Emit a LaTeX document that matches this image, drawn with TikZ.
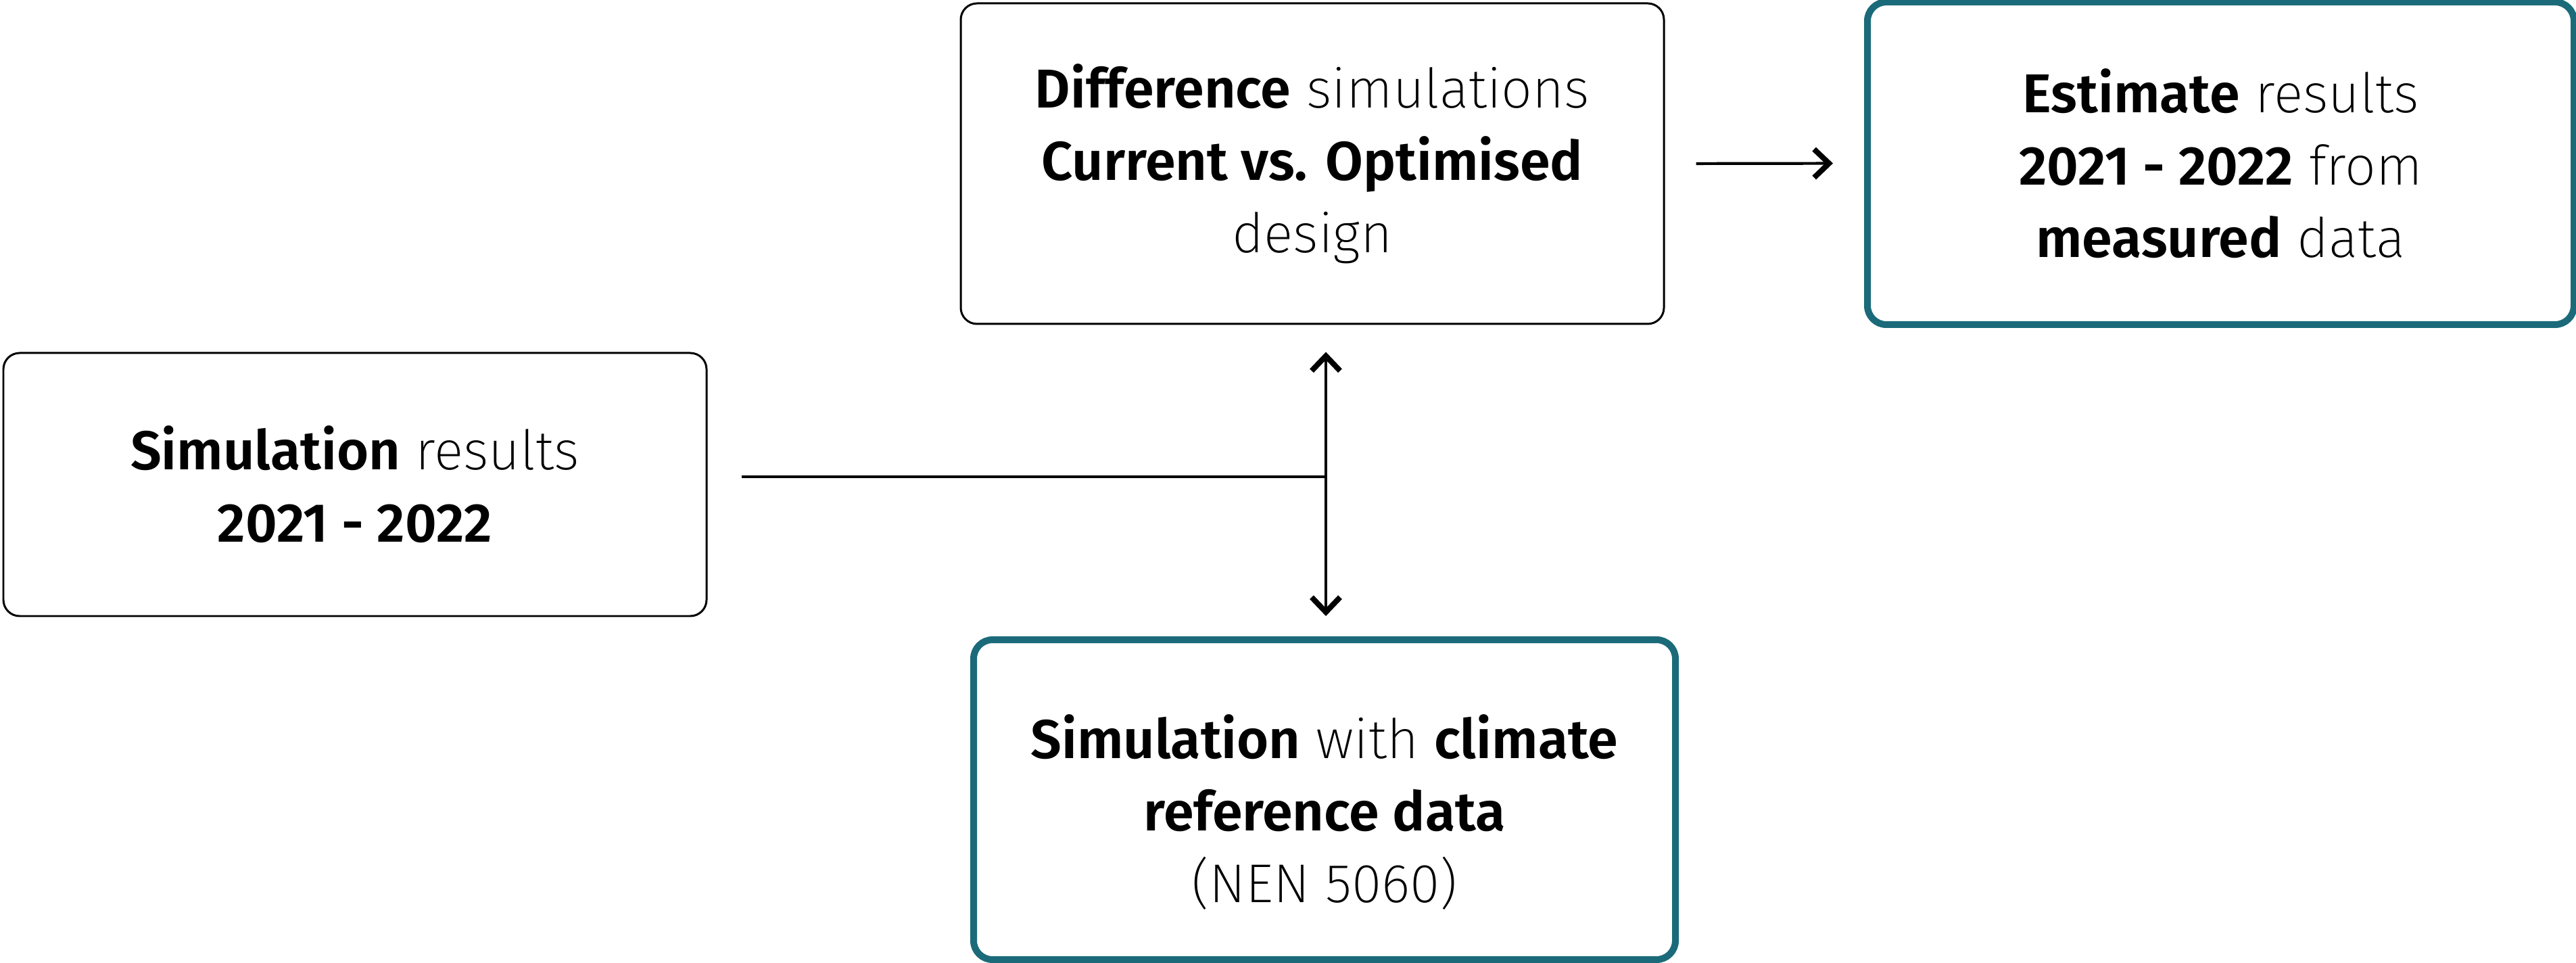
\documentclass[tikz,border=0pt]{standalone}
\usepackage{fontspec}
\setmainfont{Fira Sans ExtraLight}[BoldFont={Fira Sans SemiBold}]
\usepackage{tikz}
\usetikzlibrary{arrows.meta}
\definecolor{teal}{HTML}{1B6A7A}

\begin{document}
\begin{tikzpicture}[
	box/.style = {draw, line width=0.85pt, rounded corners=0.24cm, align=center, font=\fontsize{23}{30.4}\selectfont},
	keybox/.style = {box, draw=teal, line width=2.85pt, rounded corners=0.28cm},
	link/.style = {line width=1.2pt},
	>={Straight Barb[length=2.2mm, width=4.2mm, line width=2.3pt]}]
	\useasboundingbox (0, 0) rectangle (38.1, -14.24);
	\node (diff) at (19.41, -2.42) [box, minimum width=10.40cm, minimum height=4.74cm] {\textbf{Difference} simulations\\ \textbf{Current vs. Optimised}\\ design};
	\node (est) at (32.845, -2.415) [keybox, minimum width=10.45cm, minimum height=4.77cm] {\textbf{Estimate} results\\ \textbf{2021 - 2022} from\\ \textbf{measured} data};
	\node (sim) at (5.25, -7.165) [box, minimum width=10.40cm, minimum height=3.89cm] {\textbf{Simulation} results\\ \textbf{2021 - 2022}};
	\node (clim) at (19.59, -11.825) [keybox, minimum width=10.38cm, minimum height=4.73cm] {\rule{0pt}{1.02cm}\textbf{Simulation} with \textbf{climate}\\ \textbf{reference data}\\ (NEN 5060)};
	\coordinate (join) at (19.61, -7.05);
	\draw [link, shorten <=0.5cm] (sim.east |- join) -- (join);
	\draw [link, <->, shorten <=0.4cm, shorten >=0.3cm] (join |- diff.south) -- (join |- clim.north);
	\draw [link, ->, shorten <=0.46cm, shorten >=0.46cm] (diff.east) -- (est.west);
\end{tikzpicture}
\end{document}
